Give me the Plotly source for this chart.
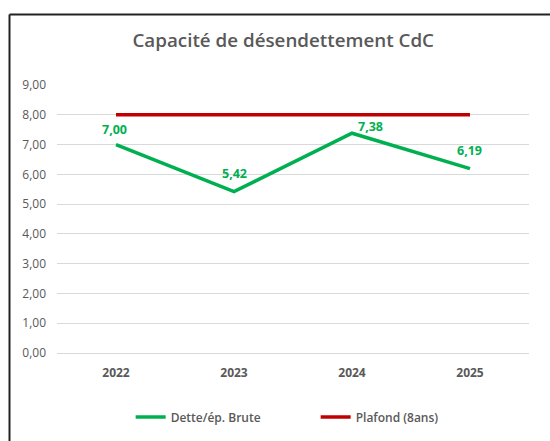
import plotly.graph_objects as go

years = ["2022", "2023", "2024", "2025"]
dette = [7.00, 5.42, 7.38, 6.19]
plafond = [8, 8, 8, 8]
label_xshift = [-2, 0, 18, -1]
label_yshift = [15, 18, 7, 18]

grey = "#595959"
fig = go.Figure()
fig.add_trace(go.Scatter(
    x=years, y=dette, mode="lines", name="Dette/ép. Brute",
    line=dict(color="#00B050", width=3.5),
))
fig.add_trace(go.Scatter(
    x=years, y=plafond, mode="lines", name="Plafond (8ans)",
    line=dict(color="#C00000", width=3.5),
))
for i, (v, xs, ys) in enumerate(zip(dette, label_xshift, label_yshift)):
    fig.add_annotation(x=i, y=v, text=f"{v:.2f}".replace(".", ","), showarrow=False,
                       xshift=xs, yshift=ys,
                       font=dict(color="#00B050", size=12.5, family="Open Sans", weight="bold"))

fig.update_layout(
    width=550, height=441,
    margin=dict(l=57, r=21, t=85, b=88),
    paper_bgcolor="white", plot_bgcolor="white",
    separators=", ",
    title=dict(text="Capacité de désendettement CdC", x=0.515, xanchor="center",
               y=1 - 40/441, yanchor="middle",
               font=dict(family="Open Sans", size=18.8, color=grey, weight=600)),
    xaxis=dict(type="category", range=[-0.5, 3.5], showgrid=False, automargin=False,
               showline=True, linecolor="#d9d9d9", linewidth=1, ticks="",
               ticklabelstandoff=9,
               tickfont=dict(family="Open Sans", size=12, color=grey, weight="bold")),
    yaxis=dict(range=[0, 9], dtick=1, tickformat=".2f", showgrid=True, automargin=False,
               gridcolor="#d9d9d9", gridwidth=1, zeroline=False, ticks="",
               ticklabelstandoff=10,
               tickfont=dict(family="Open Sans", size=12, color=grey)),
    legend=dict(orientation="h", x=0.548, xanchor="center",
                yref="container", y=1 - 417/441, yanchor="middle",
                font=dict(family="Open Sans", size=12, color=grey, weight=600),
                entrywidth=140, itemwidth=30, tracegroupgap=0),
    showlegend=True,
)
# outer border (top and left edges visible)
fig.add_shape(type="line", xref="paper", yref="paper",
              x0=(9.5-57)/472, x1=1.2, y0=(353-14.5)/268, y1=(353-14.5)/268,
              line=dict(color="#222222", width=2))
fig.add_shape(type="line", xref="paper", yref="paper",
              x0=(9.5-57)/472, x1=(9.5-57)/472, y0=-0.5, y1=(353-14.5)/268,
              line=dict(color="#222222", width=2))

fig.write_html("out.html", config={"displayModeBar": False},
               post_script="document.body.style.margin='0';")
